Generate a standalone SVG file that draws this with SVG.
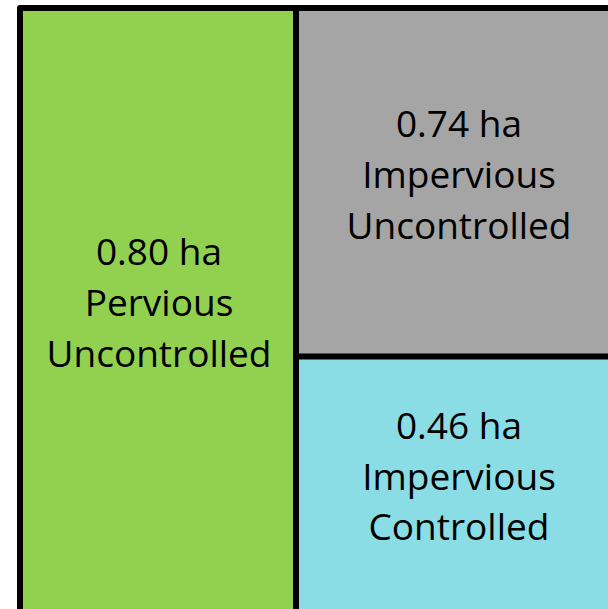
<svg xmlns="http://www.w3.org/2000/svg" width="608" height="609" viewBox="0 0 608 609">
  <style>
    .lbl { font-family: "Open Sans", "Liberation Sans", sans-serif; font-size: 37px; fill: #000; text-anchor: middle; }
    .edge { fill: none; stroke: #000; stroke-width: 6; stroke-linejoin: round; }
  </style>
  <rect x="0" y="0" width="608" height="609" fill="#fff"/>

  <g id="pervious-uncontrolled">
    <rect x="20" y="8" width="276" height="610" fill="#92D050"/>
    <text class="lbl" x="159" y="265">0.80 ha</text>
    <text class="lbl" x="159" y="316">Pervious</text>
    <text class="lbl" x="159" y="367">Uncontrolled</text>
  </g>

  <g id="impervious-uncontrolled">
    <rect x="296" y="8" width="320" height="348" fill="#A5A5A5"/>
    <text class="lbl" x="459" y="137">0.74 ha</text>
    <text class="lbl" x="459" y="188">Impervious</text>
    <text class="lbl" x="459" y="239">Uncontrolled</text>
  </g>

  <g id="impervious-controlled">
    <rect x="296" y="356" width="320" height="262" fill="#8ADDE5"/>
    <text class="lbl" x="459" y="439">0.46 ha</text>
    <text class="lbl" x="459" y="490">Impervious</text>
    <text class="lbl" x="459" y="540">Controlled</text>
  </g>

  <g id="borders">
    <path class="edge" d="M20,620 V8 H620"/>
    <path class="edge" d="M296,8 V620"/>
    <path class="edge" d="M296,356.5 H620" stroke-width="7"/>
  </g>
</svg>
